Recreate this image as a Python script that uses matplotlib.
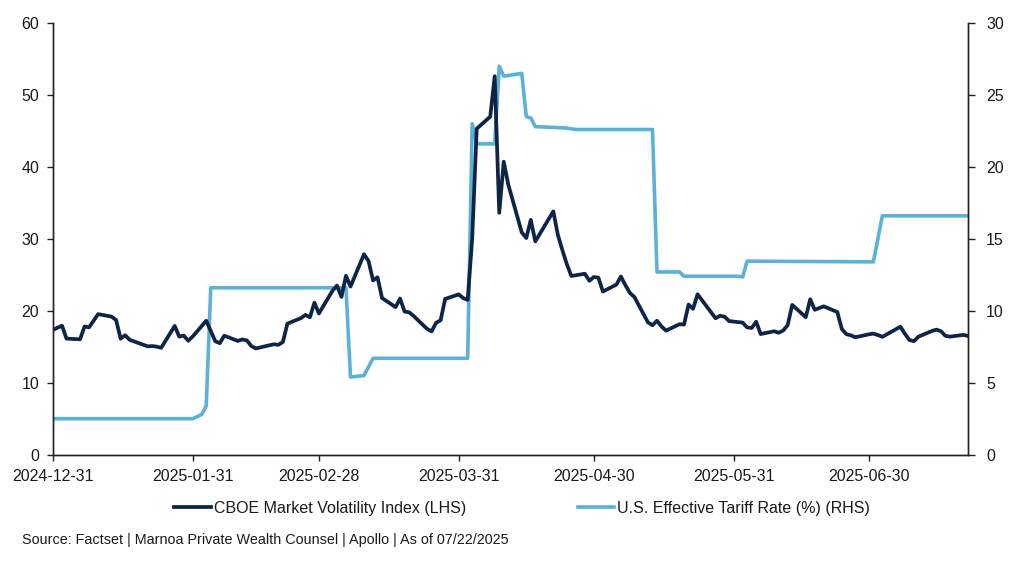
import matplotlib
matplotlib.use("Agg")
import matplotlib.pyplot as plt
import matplotlib.dates as mdates
import pandas as pd

plt.rcParams["font.family"] = ["Liberation Sans", "DejaVu Sans"]

# CBOE VIX daily closes
vix_dates = [
    "2024-12-31", "2025-01-02", "2025-01-03", "2025-01-06", "2025-01-07", "2025-01-08",
    "2025-01-10", "2025-01-13", "2025-01-14", "2025-01-15", "2025-01-16", "2025-01-17",
    "2025-01-21", "2025-01-22", "2025-01-23", "2025-01-24", "2025-01-27", "2025-01-28",
    "2025-01-29", "2025-01-30", "2025-01-31", "2025-02-03", "2025-02-04", "2025-02-05",
    "2025-02-06", "2025-02-07", "2025-02-10", "2025-02-11", "2025-02-12", "2025-02-13",
    "2025-02-14", "2025-02-18", "2025-02-19", "2025-02-20", "2025-02-21", "2025-02-24",
    "2025-02-25", "2025-02-26", "2025-02-27", "2025-02-28", "2025-03-03", "2025-03-04",
    "2025-03-05", "2025-03-06", "2025-03-07", "2025-03-10", "2025-03-11", "2025-03-12",
    "2025-03-13", "2025-03-14", "2025-03-17", "2025-03-18", "2025-03-19", "2025-03-20",
    "2025-03-21", "2025-03-24", "2025-03-25", "2025-03-26", "2025-03-27", "2025-03-28",
    "2025-03-31", "2025-04-01", "2025-04-02", "2025-04-03", "2025-04-04", "2025-04-07",
    "2025-04-08", "2025-04-09", "2025-04-10", "2025-04-11", "2025-04-14", "2025-04-15",
    "2025-04-16", "2025-04-17", "2025-04-21", "2025-04-22", "2025-04-23", "2025-04-24",
    "2025-04-25", "2025-04-28", "2025-04-29", "2025-04-30", "2025-05-01", "2025-05-02",
    "2025-05-05", "2025-05-06", "2025-05-07", "2025-05-08", "2025-05-09", "2025-05-12",
    "2025-05-13", "2025-05-14", "2025-05-15", "2025-05-16", "2025-05-19", "2025-05-20",
    "2025-05-21", "2025-05-22", "2025-05-23", "2025-05-27", "2025-05-28", "2025-05-29",
    "2025-05-30", "2025-06-02", "2025-06-03", "2025-06-04", "2025-06-05", "2025-06-06",
    "2025-06-09", "2025-06-10", "2025-06-11", "2025-06-12", "2025-06-13", "2025-06-16",
    "2025-06-17", "2025-06-18", "2025-06-20", "2025-06-23", "2025-06-24", "2025-06-25",
    "2025-06-26", "2025-06-27", "2025-06-30", "2025-07-01", "2025-07-02", "2025-07-03",
    "2025-07-07", "2025-07-08", "2025-07-09", "2025-07-10", "2025-07-11", "2025-07-14",
    "2025-07-15", "2025-07-16", "2025-07-17", "2025-07-18", "2025-07-21", "2025-07-22",
]
vix_values = [
    17.35, 17.93, 16.13, 16.04, 17.82, 17.70,
    19.54, 19.19, 18.71, 16.12, 16.60, 15.97,
    15.06, 15.10, 15.02, 14.85, 17.90, 16.41,
    16.56, 15.84, 16.43, 18.62, 17.21, 15.77,
    15.50, 16.54, 15.81, 16.02, 15.89, 15.10,
    14.77, 15.35, 15.27, 15.66, 18.21, 18.98,
    19.43, 19.10, 21.13, 19.63, 22.78, 23.51,
    21.93, 24.87, 23.37, 27.86, 26.92, 24.23,
    24.66, 21.77, 20.51, 21.70, 19.90, 19.80,
    19.28, 17.48, 17.15, 18.33, 18.69, 21.65,
    22.28, 21.77, 21.51, 30.02, 45.31, 46.98,
    52.60, 33.62, 40.72, 37.56, 30.89, 30.12,
    32.64, 29.65, 33.82, 30.57, 28.45, 26.47,
    24.84, 25.15, 24.17, 24.70, 24.60, 22.68,
    23.64, 24.76, 23.55, 22.48, 21.90, 18.39,
    17.99, 18.62, 17.83, 17.24, 18.14, 18.09,
    20.87, 20.28, 22.29, 18.96, 19.31, 19.18,
    18.57, 18.36, 17.69, 17.61, 18.48, 16.77,
    17.16, 16.95, 17.26, 18.02, 20.82, 19.11,
    21.60, 20.14, 20.62, 19.83, 17.48, 16.76,
    16.59, 16.32, 16.73, 16.83, 16.64, 16.38,
    17.79, 16.81, 15.94, 15.78, 16.40, 17.20,
    17.38, 17.16, 16.52, 16.41, 16.65, 16.50,
]

# U.S. effective tariff rate (%), points where the series changes
tariff_dates = [
    "2024-12-31", "2025-01-31", "2025-02-02", "2025-02-03", "2025-02-04", "2025-03-06",
    "2025-03-07", "2025-03-10", "2025-03-12", "2025-04-02", "2025-04-03", "2025-04-04",
    "2025-04-08", "2025-04-09", "2025-04-10", "2025-04-14", "2025-04-15", "2025-04-16",
    "2025-04-17", "2025-04-24", "2025-04-26", "2025-05-13", "2025-05-14", "2025-05-19",
    "2025-05-20", "2025-06-01", "2025-06-02", "2025-06-03", "2025-07-01", "2025-07-03",
    "2025-07-22",
]
tariff_values = [
    2.5, 2.5, 2.8, 3.4, 11.6, 11.6,
    5.4, 5.5, 6.7, 6.7, 23.0, 21.6,
    21.6, 27.0, 26.3, 26.5, 23.5, 23.4,
    22.8, 22.7, 22.6, 22.6, 12.7, 12.7,
    12.4, 12.4, 12.35, 13.45, 13.4, 16.6,
    16.6,
]

x_ticks = ["2024-12-31", "2025-01-31", "2025-02-28", "2025-03-31",
           "2025-04-30", "2025-05-31", "2025-06-30"]

NAVY = "#0e2548"
LIGHT = "#5bb2d6"
TXT = "#1a1a1a"

fig = plt.figure(figsize=(10.24, 5.63), dpi=100)
ax = fig.add_axes([53 / 1024, 1 - 454.7 / 563, (968 - 53) / 1024, (454.7 - 23) / 563])
ax2 = ax.twinx()

ax.plot(pd.to_datetime(vix_dates), vix_values, color=NAVY, lw=2.7,
        solid_joinstyle="round", label="CBOE Market Volatility Index (LHS)")
ax2.plot(pd.to_datetime(tariff_dates), tariff_values, color=LIGHT, lw=2.6,
         solid_joinstyle="round", label="U.S. Effective Tariff Rate (%) (RHS)")

# VIX line sits on top of the tariff line
ax.set_zorder(ax2.get_zorder() + 1)
ax.patch.set_visible(False)

ax.set_xlim(pd.Timestamp("2024-12-31"), pd.Timestamp("2025-07-22"))
ax.set_ylim(0, 60)
ax2.set_ylim(0, 30)
ax.set_yticks(range(0, 61, 10))
ax2.set_yticks(range(0, 31, 5))
ax.set_xticks(pd.to_datetime(x_ticks))
ax.xaxis.set_major_formatter(mdates.DateFormatter("%Y-%m-%d"))

for a in (ax, ax2):
    a.spines["top"].set_visible(False)
    for s in ("left", "right", "bottom"):
        a.spines[s].set_color("#222222")
        a.spines[s].set_linewidth(1.0)
    a.tick_params(axis="both", direction="out", length=4, width=1,
                  color="#222222", labelsize=11.5, labelcolor=TXT, pad=6)
ax2.tick_params(axis="y", length=5, pad=8)

h1, l1 = ax.get_legend_handles_labels()
h2, l2 = ax2.get_legend_handles_labels()
fig.legend(h1 + h2, l1 + l2, loc="center", bbox_to_anchor=(522 / 1024, 1 - 508 / 563),
           ncol=2, frameon=False, fontsize=11.5, handlelength=2.3,
           handletextpad=0.15, columnspacing=7.0, labelcolor=TXT)

fig.text(22 / 1024, 1 - 540 / 563,
         "Source: Factset | Marnoa Private Wealth Counsel | Apollo | As of 07/22/2025",
         fontsize=10.4, color=TXT, ha="left", va="center")

fig.savefig("out.png", dpi=100)
